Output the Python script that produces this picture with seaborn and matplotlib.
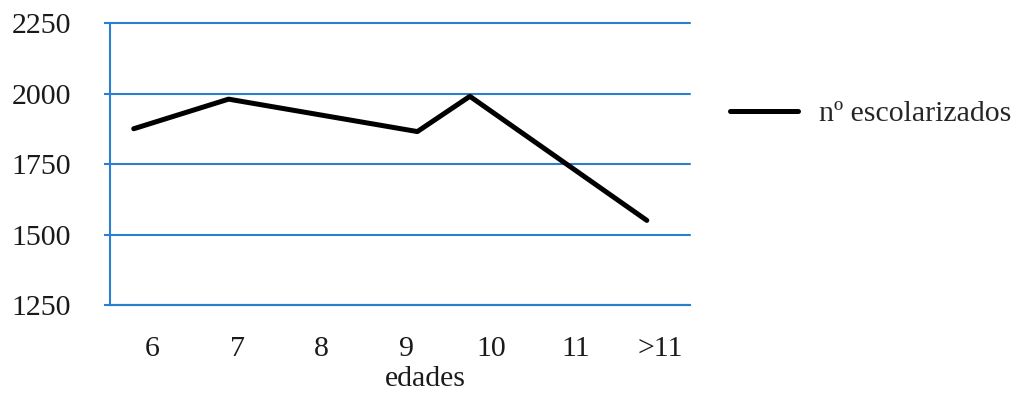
import numpy as np
import pandas as pd
import matplotlib
matplotlib.use('Agg')
import matplotlib.pyplot as plt
import seaborn as sns

# Data
edad_pos = [5.78, 6.90, 9.13, 9.75, 11.84]
escolarizados = [1875, 1980, 1865, 1990, 1550]
tick_pos = [6, 7, 8, 9, 10, 11, 12]
tick_labels = ['6', '7', '8', '9', '10', '11', '>11']
y_ticks = [1250, 1500, 1750, 2000, 2250]

df = pd.DataFrame({'edad': edad_pos, 'n': escolarizados})

sns.set_style('white')
plt.rcParams['font.family'] = ['Liberation Serif', 'DejaVu Serif']

blue = '#2b7fd0'
txt = '#1a1a1a'
fs = 21.5

fig = plt.figure(figsize=(10.15, 3.96), dpi=100)
ax = fig.add_axes([0.1084, 0.2298, 0.5714, 0.7121])

sns.lineplot(data=df, x='edad', y='n', color='black', linewidth=3.6,
             label='nº escolarizados', ax=ax, sort=False)

ax.set_xlim(5.5, 12.35)
ax.set_ylim(1250, 2250)
ax.set_xticks(tick_pos)
ax.set_xticklabels(tick_labels)
ax.set_yticks(y_ticks)

for v in y_ticks:
    ax.axhline(v, color=blue, linewidth=1.5, zorder=0, clip_on=False)

for s in ['top', 'right']:
    ax.spines[s].set_visible(False)
ax.spines['left'].set_color(blue)
ax.spines['left'].set_linewidth(1.5)
ax.spines['bottom'].set_color(blue)
ax.spines['bottom'].set_linewidth(1.5)

ax.tick_params(axis='y', colors=blue, labelcolor=txt, length=4,
               width=1.5, direction='out', pad=24, labelsize=fs, left=True)
ax.tick_params(axis='x', length=0, pad=22, labelsize=fs, labelcolor=txt)

ax.set_xlabel('edades', fontsize=fs, color=txt)
ax.xaxis.set_label_coords(0.543, -0.215)
ax.set_ylabel('')

ax.legend(loc='center left', bbox_to_anchor=(0.719, 0.712),
          bbox_transform=fig.transFigure, frameon=False, fontsize=fs,
          handlelength=2.3, handletextpad=0.7, borderpad=0, borderaxespad=0)

fig.savefig('out.png', dpi=100)
